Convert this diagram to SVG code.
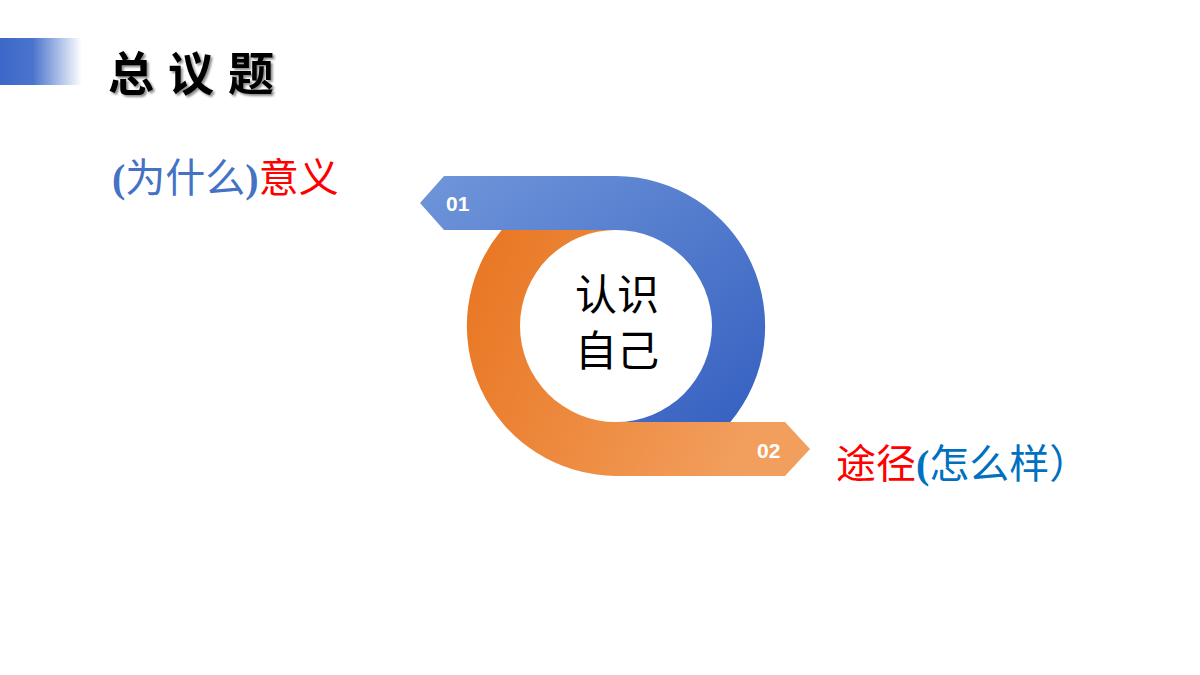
<svg xmlns="http://www.w3.org/2000/svg" width="1200" height="675" viewBox="0 0 1200 675">
<defs>
<linearGradient id="bar" x1="0" x2="1" y1="0" y2="0"><stop offset="0" stop-color="#3d68c9"/><stop offset="0.4" stop-color="#4a74cc"/><stop offset="1" stop-color="#ffffff"/></linearGradient>
<linearGradient id="gb" x1="0" y1="0" x2="1" y2="1"><stop offset="0" stop-color="#7096da"/><stop offset="1" stop-color="#3560c0"/></linearGradient>
<linearGradient id="go" x1="0" y1="0" x2="1" y2="0.3"><stop offset="0" stop-color="#e87520"/><stop offset="1" stop-color="#f29f5e"/></linearGradient>
<filter id="sh" x="-10%" y="-10%" width="130%" height="130%"><feDropShadow dx="2" dy="2" stdDeviation="1" flood-color="#000" flood-opacity="0.45"/></filter>
<style>
.cjk{font-family:"Noto Sans CJK SC",sans-serif}
.num{font-family:"Liberation Sans",Arial,sans-serif;font-weight:bold;font-size:21px;fill:#fff}
</style>
</defs>
<rect width="1200" height="675" fill="#fff"/>
<g id="header">
<rect x="0" y="38" width="82" height="47" fill="url(#bar)"/>
<text x="108" y="90" class="cjk" font-size="46" font-weight="bold" letter-spacing="14" fill="#000" filter="url(#sh)">总议题</text>
</g>
<g id="why">
<text x="112" y="192" font-size="40" class="cjk"><tspan fill="#4472c4" font-family="Liberation Serif,serif" font-weight="bold">(</tspan><tspan fill="#4472c4">为什么</tspan><tspan fill="#4472c4" font-family="Liberation Serif,serif" font-weight="bold">)</tspan><tspan fill="#ff0000">意义</tspan></text>
</g>
<g id="orange">
<path d="M616,476 A150,150 0 0 1 501.6,230 L616,230 A96,96 0 0 0 616,422 L785,422 L810,449 L785,476 Z" fill="url(#go)"/>
<text x="757" y="458" class="num">02</text>
</g>
<g id="blue">
<path d="M420,203 L444,176 L616,176 A150,150 0 0 1 730.4,422 L616,422 A96,96 0 0 0 616,230 L444,230 Z" fill="url(#gb)"/>
<text x="446" y="211" class="num">01</text>
</g>
<g id="center">
<text x="617" y="310" text-anchor="middle" class="cjk" font-size="42" fill="#000">认识</text>
<text x="617" y="366" text-anchor="middle" class="cjk" font-size="42" fill="#000">自己</text>
</g>
<g id="how">
<text x="836" y="478" font-size="40" class="cjk"><tspan fill="#ff0000">途径</tspan><tspan fill="#0070c0" font-family="Liberation Serif,serif" font-weight="bold">(</tspan><tspan fill="#0070c0">怎么样）</tspan></text>
</g>
<g id="connectors"/>
</svg>
